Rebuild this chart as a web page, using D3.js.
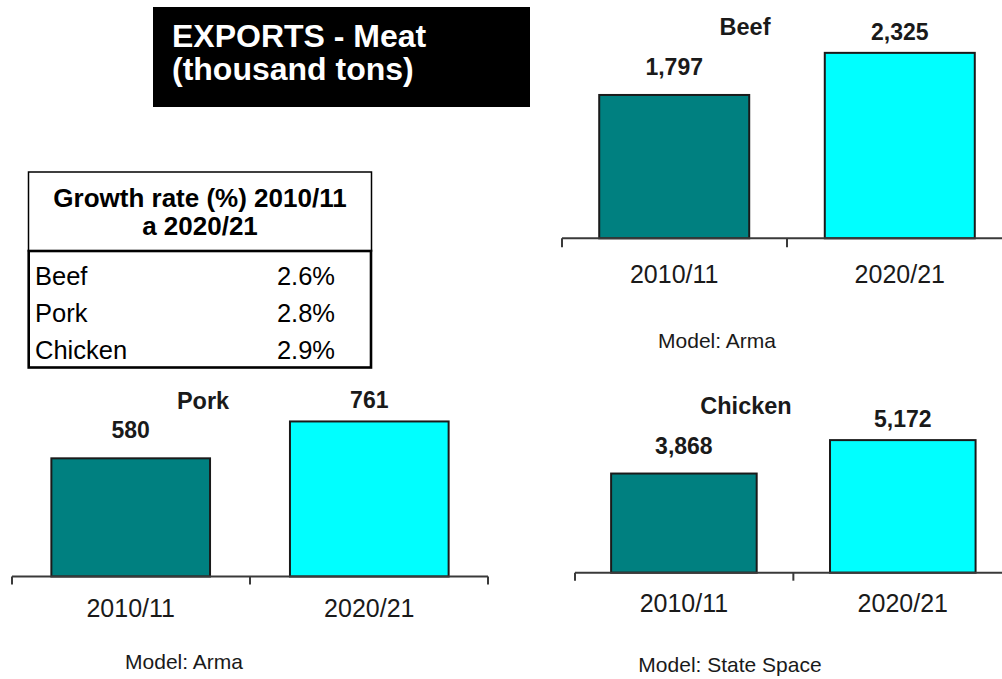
<!DOCTYPE html>
<html>
<head>
<meta charset="utf-8">
<script src="https://cdn.jsdelivr.net/npm/d3@7"></script>
<style>
  html, body { margin: 0; padding: 0; background: #fff; }
  svg { display: block; font-family: "Liberation Sans", Arial, sans-serif; }
</style>
</head>
<body>
<svg id="chart" width="1002" height="679"></svg>
<script>
// ---- Data ----
const categories = ["2010/11", "2020/21"];
const meats = ["Beef", "Pork", "Chicken"];
const beefValues = [1797, 2325];
const porkValues = [580, 761];
const chickenValues = [3868, 5172];
const models = ["Arma", "Arma", "State Space"];
const growthRates = [2.6, 2.8, 2.9];
const titleLines = ["EXPORTS - Meat", "(thousand tons)"];
const tableHeader = ["Growth rate (%) 2010/11", "a 2020/21"];

const seriesValues = [beefValues, porkValues, chickenValues];
const barColors = ["#008080", "#00FFFF"];

// ---- Layout (positions / styles only) ----
const panels = [
  { x0: 562, x1: 1012, base: 238.3, top: 38.9, dmax: 2500, titleX: 745, titleY: 35, modelX: 717, modelY: 348, tickDy: 45, tickLen: 9 },
  { x0: 12, x1: 488, base: 576.5, top: 413.5, dmax: 800, titleX: 203, titleY: 409, modelX: 184, modelY: 669, tickDy: 40, tickLen: 8 },
  { x0: 575, x1: 1011.7, base: 572.7, top: 431.7, dmax: 5500, titleX: 746, titleY: 414, modelX: 730, modelY: 672, tickDy: 39, tickLen: 8 }
];
const labelOffsets = [20, 13];

const svg = d3.select("#chart");

// ---- Title box ----
svg.append("rect").attr("x", 153).attr("y", 7).attr("width", 377).attr("height", 100).attr("fill", "#000");
svg.selectAll("text.title").data(titleLines).enter().append("text")
  .attr("class", "title")
  .attr("x", 172).attr("y", (d, i) => 47 + i * 33)
  .attr("fill", "#fff").attr("font-weight", "bold").attr("font-size", 32)
  .text(d => d);

// ---- Growth table ----
const tbl = svg.append("g");
tbl.append("rect").attr("x", 28.5).attr("y", 172).attr("width", 343).attr("height", 79)
  .attr("fill", "#fff").attr("stroke", "#000").attr("stroke-width", 1.5);
tbl.append("rect").attr("x", 28.7).attr("y", 251).attr("width", 342.3).attr("height", 116.5)
  .attr("fill", "none").attr("stroke", "#000").attr("stroke-width", 2.6);
tbl.selectAll("text.hdr").data(tableHeader).enter().append("text")
  .attr("class", "hdr")
  .attr("x", 200).attr("y", (d, i) => 207 + i * 28)
  .attr("text-anchor", "middle").attr("font-weight", "bold").attr("font-size", 26)
  .attr("fill", "#000").text(d => d);
const rowY = d3.scalePoint().domain(meats).range([285, 359]);
tbl.selectAll("text.rowname").data(meats).enter().append("text")
  .attr("x", 35).attr("y", d => rowY(d)).attr("font-size", 25.5).attr("fill", "#000").text(d => d);
tbl.selectAll("text.rowval").data(growthRates).enter().append("text")
  .attr("x", 335).attr("y", (d, i) => rowY(meats[i])).attr("text-anchor", "end")
  .attr("font-size", 25.5).attr("fill", "#000").text(d => d.toFixed(1) + "%");

// ---- Bar panels ----
const fmt = d3.format(",");
panels.forEach((p, pi) => {
  const vals = seriesValues[pi];
  const g = svg.append("g");
  const x = d3.scaleBand().domain(categories).range([p.x0, p.x1]).paddingInner(0.335).paddingOuter(0.165);
  const y = d3.scaleLinear().domain([0, p.dmax]).range([p.base, p.top]);

  g.selectAll("rect.bar").data(vals).enter().append("rect")
    .attr("x", (d, i) => x(categories[i]))
    .attr("y", d => y(d))
    .attr("width", x.bandwidth())
    .attr("height", d => y(0) - y(d))
    .attr("fill", (d, i) => barColors[i])
    .attr("stroke", "#1a1a1a").attr("stroke-width", 2);

  // axis line and boundary ticks
  const bounds = [x.range()[0]].concat(categories.slice(1).map(c => x(c) - x.step() * x.paddingInner() / 2)).concat([x.range()[1]]);
  g.append("line").attr("x1", p.x0).attr("x2", p.x1).attr("y1", y(0)).attr("y2", y(0))
    .attr("stroke", "#3a3a3a").attr("stroke-width", 2);
  g.selectAll("line.tick").data(bounds).enter().append("line")
    .attr("x1", d => d).attr("x2", d => d).attr("y1", y(0)).attr("y2", y(0) + p.tickLen)
    .attr("stroke", "#3a3a3a").attr("stroke-width", 2);

  // category labels
  g.selectAll("text.cat").data(categories).enter().append("text")
    .attr("x", d => x(d) + x.bandwidth() / 2).attr("y", y(0) + p.tickDy)
    .attr("text-anchor", "middle").attr("font-size", 25).attr("fill", "#1a1a1a").text(d => d);

  // value labels
  g.selectAll("text.val").data(vals).enter().append("text")
    .attr("x", (d, i) => x(categories[i]) + x.bandwidth() / 2)
    .attr("y", (d, i) => y(d) - labelOffsets[i])
    .attr("text-anchor", "middle").attr("font-weight", "bold").attr("font-size", 23)
    .attr("fill", "#1a1a1a").text(d => fmt(d));

  // panel title
  g.append("text").attr("x", p.titleX).attr("y", p.titleY).attr("text-anchor", "middle")
    .attr("font-weight", "bold").attr("font-size", 23.5).attr("fill", "#1a1a1a").text(meats[pi]);

  // model note
  g.append("text").attr("x", p.modelX).attr("y", p.modelY).attr("text-anchor", "middle")
    .attr("font-size", 21).attr("fill", "#1a1a1a").text("Model: " + models[pi]);
});
</script>
</body>
</html>
